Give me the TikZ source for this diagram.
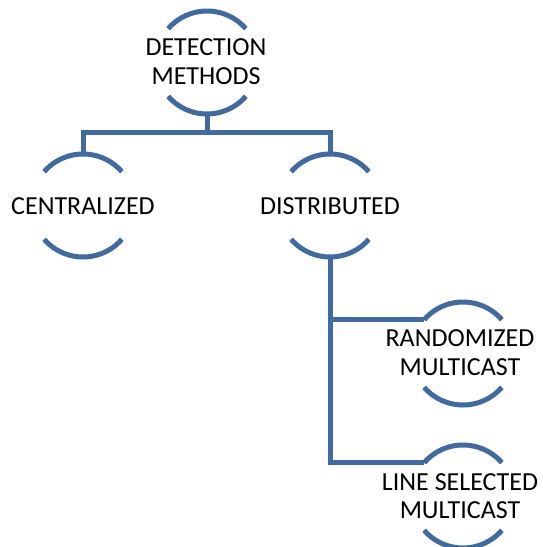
\documentclass[tikz,border=0pt]{standalone}
\usepackage{fontspec}
\setmainfont{Carlito}
\definecolor{lineblue}{RGB}{64,106,160}
\begin{document}
\begin{tikzpicture}[x=1pt,y=1pt,
  lbl/.style={align=center,font=\fontsize{26}{28.5}\selectfont,inner sep=0pt,text=black},
  arcline/.style={draw=lineblue,line width=5pt},
  conn/.style={draw=lineblue,line width=5pt,line join=miter}]
\useasboundingbox (0,0) rectangle (542,-547);
\def\R{51.5}
% circle centres
\coordinate (cdm)  at (207,-62.5);
\coordinate (ccen) at (83,-205.5);
\coordinate (cdis) at (330,-205.5);
\coordinate (cran) at (463,-353.5);
\coordinate (clin) at (463,-496.5);
% arcs
\foreach \c in {cdm,ccen,cdis,cran,clin}{
  \draw[arcline] ([shift={(41:\R)}]\c) arc (41:139:\R);
  \draw[arcline] ([shift={(221:\R)}]\c) arc (221:319:\R);
}
% labels
\node[lbl] (dm)  at (206,-61.5) {DETECTION\\METHODS};
\node[lbl] (cen) at (83,-206) {CENTRALIZED};
\node[lbl] (dis) at (330,-206) {DISTRIBUTED};
\node[lbl] (ran) at (460,-352.5) {RANDOMIZED\\MULTICAST};
\node[lbl] (lin) at (460,-496) {LINE SELECTED\\MULTICAST};
% connector anchor points
\coordinate (dmB)  at ([yshift=-\R]cdm);
\coordinate (cenT) at ([yshift=\R]ccen);
\coordinate (disT) at ([yshift=\R]cdis);
\coordinate (disB) at ([yshift=-\R]cdis);
\coordinate (ranL) at ([shift={(139:\R)}]cran);
\coordinate (linL) at ([shift={(139:\R)}]clin);
% connectors
\draw[conn] (dmB) -- ++(0,-18.5) -| (cenT);
\draw[conn] (dmB) -- ++(0,-18.5) -| (disT);
\draw[conn] (disB) |- (ranL);
\draw[conn] (disB) |- (linL);
\end{tikzpicture}
\end{document}
